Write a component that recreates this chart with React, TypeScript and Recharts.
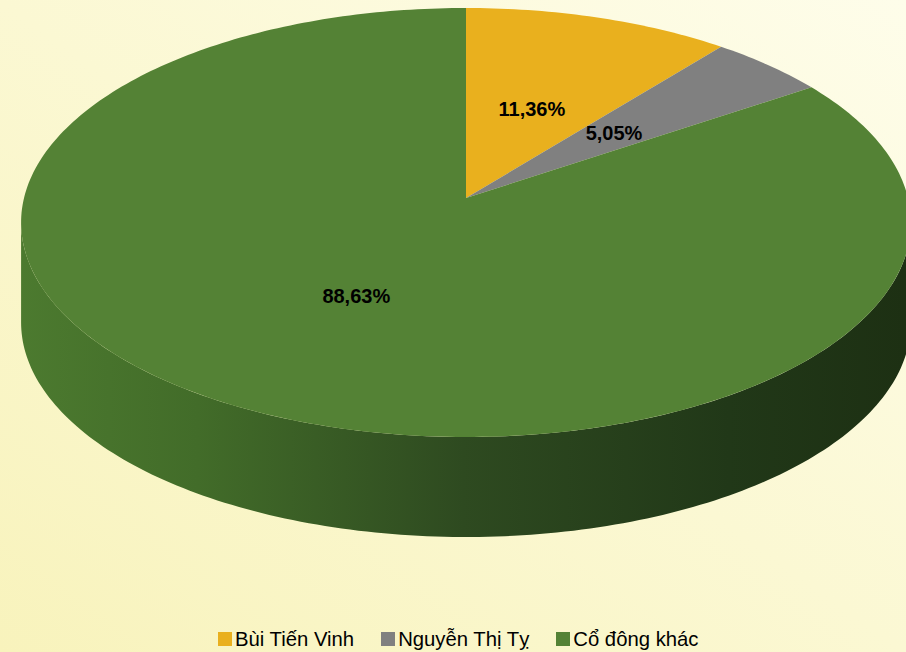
import { PieChart, Pie, Cell, Legend } from 'recharts';

const holders = ['Bùi Tiến Vinh', 'Nguyễn Thị Tỵ', 'Cổ đông khác'];
const shares = [11.36, 5.05, 88.63];

const COLORS = ['#E9B01E', '#808080', '#548235'];

const data = holders.map((name, i) => ({ name, value: shares[i] }));

// perspective of the tilted disc
const K = 0.1142;
const FLAT = 0.479;
const DEPTH = 100;
const SIDE_FROM = (Math.acos(-K) * 180) / Math.PI;
const SIDE_TO = 360 - SIDE_FROM;

const project = (cx: number, cy: number, r: number, theta: number, f = 1) => {
  const t = (theta * Math.PI) / 180;
  const u = f * Math.sin(t);
  const v = f * Math.cos(t);
  const s = 1 + K * v;
  return [cx + (r * u) / s, cy - (r * FLAT * v) / s];
};

const arcPoints = (cx: number, cy: number, r: number, a: number, b: number) => {
  const n = Math.max(2, Math.ceil(Math.abs(b - a)));
  const pts: number[][] = [];
  for (let i = 0; i <= n; i++) pts.push(project(cx, cy, r, a + ((b - a) * i) / n));
  return pts;
};

const Slice3D = (props: any) => {
  const { cx, cy, outerRadius, startAngle, endAngle, fill } = props;
  const t1 = Math.min(90 - startAngle, 90 - endAngle);
  const t2 = Math.max(90 - startAngle, 90 - endAngle);
  const rim = arcPoints(cx, cy, outerRadius, t1, t2);
  const top = `M${cx},${cy} ` + rim.map((p) => `L${p[0]},${p[1]}`).join(' ') + ' Z';

  let side = null;
  const s1 = Math.max(t1, SIDE_FROM);
  const s2 = Math.min(t2, SIDE_TO);
  if (s2 > s1) {
    const upper = arcPoints(cx, cy, outerRadius, s1, s2);
    const lower = upper.map((p) => [p[0], p[1] + DEPTH]).reverse();
    const d =
      upper.map((p, i) => `${i ? 'L' : 'M'}${p[0]},${p[1]}`).join(' ') +
      ' ' +
      lower.map((p) => `L${p[0]},${p[1]}`).join(' ') +
      ' Z';
    side = <path d={d} fill="url(#sideShade)" stroke="none" />;
  }

  return (
    <g>
      {side}
      <path d={top} fill={fill} stroke="none" />
    </g>
  );
};

const renderLabel = (props: any) => {
  const { cx, cy, midAngle, outerRadius, value } = props;
  const f = value > 50 ? 0.5 : 0.47;
  const [x, y] = project(cx, cy, outerRadius, 90 - midAngle, f);
  return (
    <text
      x={x}
      y={y}
      textAnchor="middle"
      dominantBaseline="central"
      fill="#000"
      fontSize={20}
      fontWeight="bold"
      fontFamily="'Liberation Sans', Arial, sans-serif"
    >
      {value.toFixed(2).replace('.', ',') + '%'}
    </text>
  );
};

const renderLegend = (props: any) => {
  const items = [...(props.payload || [])].sort(
    (a: any, b: any) => holders.indexOf(a.value) - holders.indexOf(b.value)
  );
  return (
    <div
      style={{
        display: 'flex',
        paddingLeft: 218,
        gap: 27,
        fontFamily: "'Liberation Sans', Arial, sans-serif",
        fontSize: 20.3,
        lineHeight: '20px',
        color: '#000',
      }}
    >
      {items.map((item: any, i: number) => (
        <div key={i} style={{ display: 'flex', alignItems: 'center' }}>
          <span style={{ width: 14, height: 14, background: item.color, marginRight: 3 }} />
          <span>{item.value}</span>
        </div>
      ))}
    </div>
  );
};

export default function App() {
  return (
    <div
      style={{
        position: 'absolute',
        left: 0,
        top: 0,
        width: 906,
        height: 652,
        overflow: 'hidden',
        background: 'linear-gradient(to bottom left, #FEFDEA, #F8F3BC)',
      }}
    >
      <PieChart width={906} height={652} margin={{ top: 0, right: 0, bottom: 0, left: 0 }}>
        <defs>
          <linearGradient id="sideShade" gradientUnits="userSpaceOnUse" x1={20} y1={0} x2={906} y2={0}>
            <stop offset="0%" stopColor="#4C7A2F" />
            <stop offset="20%" stopColor="#426C29" />
            <stop offset="50%" stopColor="#2E4A20" />
            <stop offset="80%" stopColor="#213818" />
            <stop offset="100%" stopColor="#1D3013" />
          </linearGradient>
        </defs>
        <Pie
          data={data}
          dataKey="value"
          nameKey="name"
          cx={466}
          cy={198}
          outerRadius={442}
          startAngle={90}
          endAngle={-270}
          stroke="none"
          shape={Slice3D}
          activeShape={Slice3D}
          inactiveShape={Slice3D}
          label={renderLabel}
          labelLine={false}
          isAnimationActive={false}
        >
          {data.map((entry, i) => (
            <Cell key={`cell-${i}`} fill={COLORS[i]} />
          ))}
        </Pie>
        <Legend content={renderLegend} wrapperStyle={{ top: 629, left: 0, width: 906 }} />
      </PieChart>
    </div>
  );
}
